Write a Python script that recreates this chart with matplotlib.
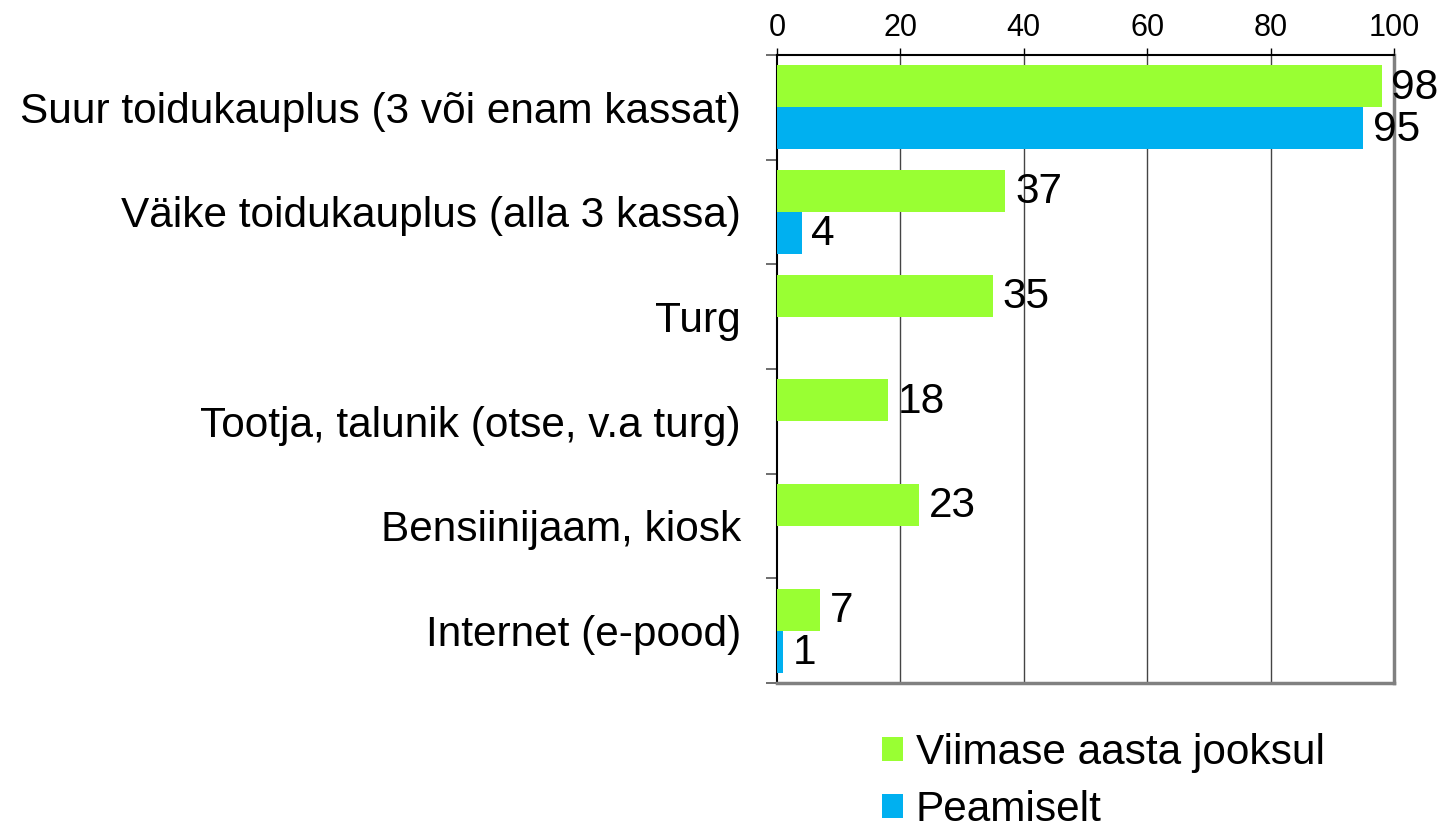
import numpy as np
import matplotlib.pyplot as plt

plt.rcParams['font.family'] = ['Liberation Sans', 'DejaVu Sans']

kategooriad = ["Suur toidukauplus (3 või enam kassat)",
               "Väike toidukauplus (alla 3 kassa)",
               "Turg",
               "Tootja, talunik (otse, v.a turg)",
               "Bensiinijaam, kiosk",
               "Internet (e-pood)"]
viimase_aasta = [98, 37, 35, 18, 23, 7]
peamiselt = [95, 4, None, None, None, 1]
x_ticks = [0, 20, 40, 60, 80, 100]

green = '#99FF33'
blue = '#00B0F0'

fig = plt.figure(figsize=(14.44, 8.25), dpi=100)
ax = fig.add_axes([777/1444, 1 - 683/825, (1394 - 777)/1444, (683 - 55)/825])

y = np.arange(len(kategooriad))
h = 0.4
ax.barh(y - h/2, viimase_aasta, height=h, color=green, label='Viimase aasta jooksul', zorder=3)
p_vals = [v if v is not None else 0 for v in peamiselt]
ax.barh(y + h/2, p_vals, height=h, color=blue, label='Peamiselt', zorder=3)

for i, v in enumerate(viimase_aasta):
    ax.annotate(str(v), (v, i - h/2), xytext=(7, -1), textcoords='offset points',
                ha='left', va='center', fontsize=30.5)
for i, v in enumerate(peamiselt):
    if v is not None:
        ax.annotate(str(v), (v, i + h/2), xytext=(7, -1), textcoords='offset points',
                    ha='left', va='center', fontsize=30.5)

ax.set_xlim(0, 100)
ax.set_ylim(len(kategooriad) - 0.5, -0.5)
ax.xaxis.tick_top()
ax.set_xticks(x_ticks)
ax.tick_params(axis='x', direction='out', length=5, width=1, color='black',
               labelsize=22, pad=4)
ax.set_yticks(y)
ax.set_yticklabels(kategooriad, fontsize=30.5)
ax.tick_params(axis='y', length=0, pad=26)
ax.set_yticks(np.arange(len(kategooriad) + 1) - 0.5, minor=True)
ax.tick_params(axis='y', which='minor', length=8, width=1.2, color='#555555', direction='out')

for xv in x_ticks[1:-1]:
    ax.axvline(xv, color='#444444', lw=1, zorder=1)

ax.spines['top'].set_color('black')
ax.spines['top'].set_linewidth(1.5)
ax.spines['left'].set_color('black')
ax.spines['left'].set_linewidth(1.5)
ax.spines['right'].set_color('#808080')
ax.spines['right'].set_linewidth(2.5)
ax.spines['bottom'].set_color('#808080')
ax.spines['bottom'].set_linewidth(2.5)

fig.legend(loc='upper left', bbox_to_anchor=(882/1444, 1 - 733/825), frameon=False,
           fontsize=30.5, handlelength=0.5, handleheight=0.5, handletextpad=0.3,
           labelspacing=0.4, borderpad=0, borderaxespad=0)

fig.savefig('out.png', dpi=100)
